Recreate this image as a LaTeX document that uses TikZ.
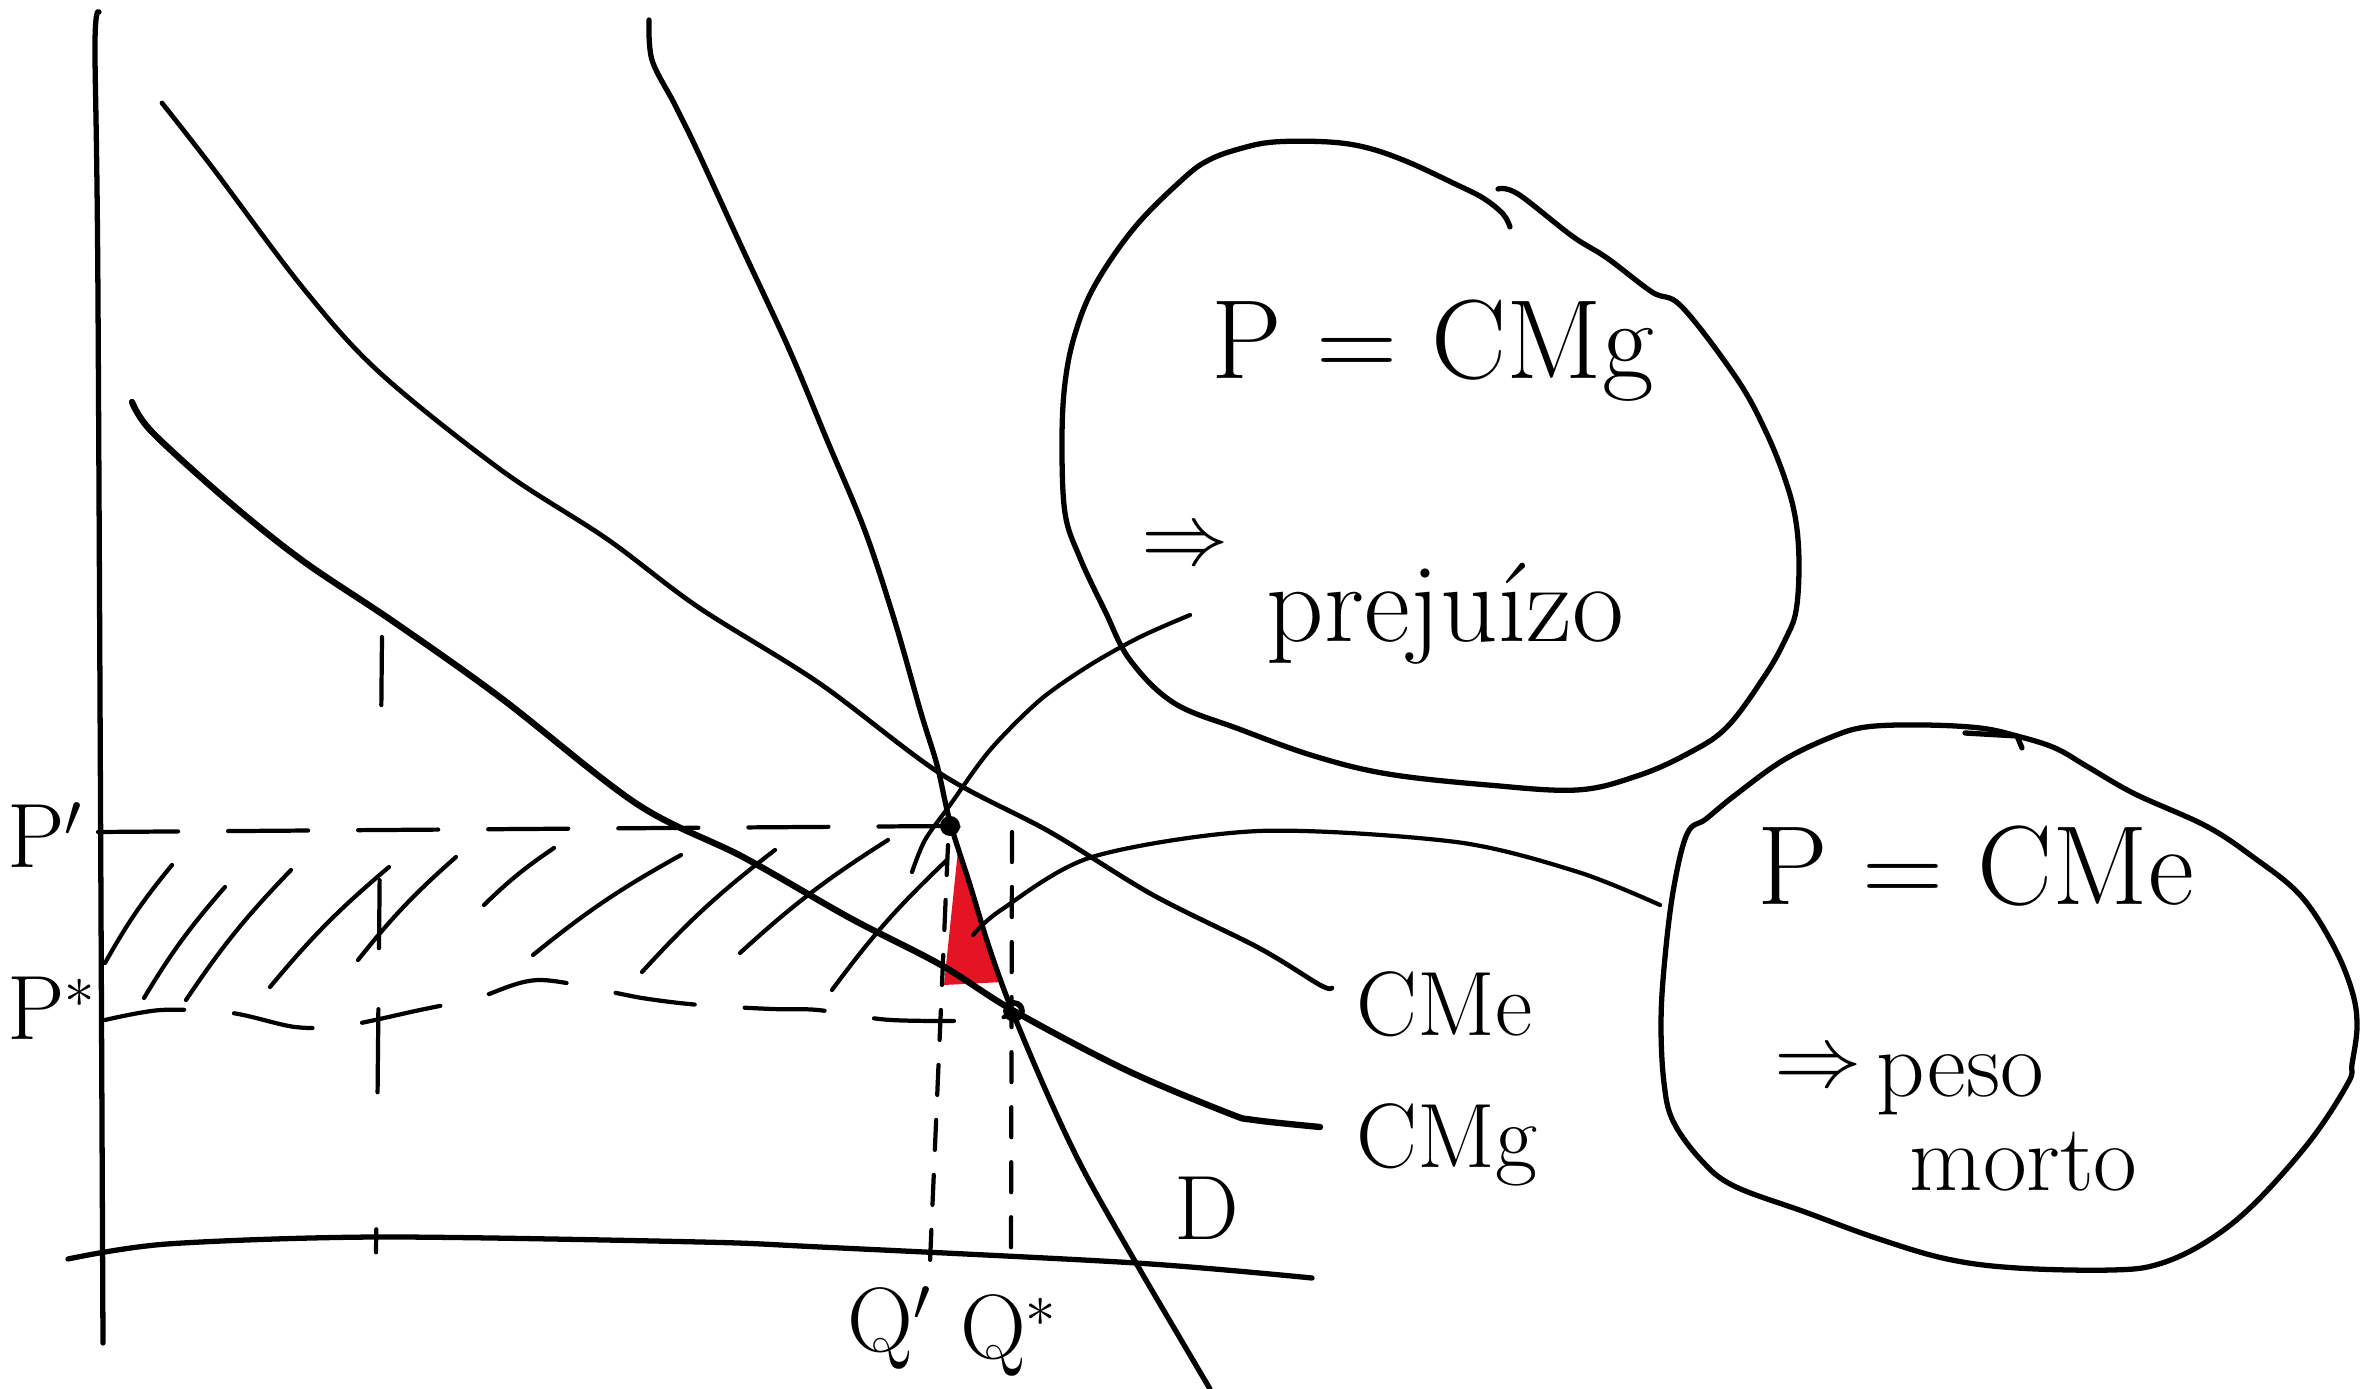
\documentclass[tikz,border=0pt]{standalone}
\usepackage{fontspec}
\usetikzlibrary{positioning}
\definecolor{inkred}{RGB}{228,20,36}

\begin{document}
\begin{tikzpicture}[
  x=0.01cm, y=-0.01cm,
  curve/.style={line width=1.5pt, line cap=round, line join=round},
  fine/.style={line width=1.2pt, line cap=round, line join=round},
  guide/.style={fine, dash pattern=on 0.8cm off 0.5cm},
  drop/.style={fine, dash pattern=on 0.3cm off 0.25cm},
  hatch/.style={fine},
  lbl/.style={font=\fontsize{26}{28}\selectfont, inner sep=0pt},
  note/.style={font=\fontsize{32}{36}\selectfont, inner sep=0pt},
  subnote/.style={font=\fontsize{27}{30}\selectfont, inner sep=0pt}
]
\useasboundingbox (0,0) rectangle (2379,1389);

% deadweight area
\fill[inkred] (958,850) -- (944,985) -- (1003,982) -- cycle;

% axes
\draw[curve] plot[smooth] coordinates {(99,12) (95,45) (98,300) (103,1343)};
\draw[curve] plot[smooth] coordinates {(68,1259) (167,1244) (379,1237) (700,1242) (820,1247) (1136,1263) (1312,1278)};

% demand, average and marginal cost
\draw[curve] plot[smooth, tension=0.55] coordinates {(649,20) (652,60) (675,105) (698,152) (743,250) (789,349) (827,440) (865,531) (895,622) (921,713) (937,765) (950,822) (970,885) (990,950) (1013,1013) (1050,1100) (1085,1173) (1136,1263) (1177,1333) (1210,1389)};
\draw[fine, line width=1.35pt] plot[smooth, tension=0.55] coordinates {(162,103) (212,167) (303,288) (379,372) (501,470) (607,539) (698,607) (819,683) (941,774) (1050,832) (1153,895) (1259,948) (1320,985) (1332,988)};
\draw[curve, line width=1.8pt] plot[smooth, tension=0.55] coordinates {(132,402) (152,432) (228,501) (303,561) (394,622) (501,698) (637,804) (743,857) (850,918) (941,965) (1014,1011) (1126,1070) (1228,1113) (1254,1120) (1320,1127)};

\coordinate (E1) at (950,826);
\coordinate (E2) at (1014,1011);
\fill (E1) circle[radius=0.1cm];
\draw[line width=1.6pt] (E2) circle[radius=0.08cm];

% price and quantity guides
\draw[guide] (98,832) -- (E1) -- (984,829);
\draw[guide] plot[smooth] coordinates {(105,1020) (161,1010) (232,1013) (295,1027) (344,1026) (420,1010) (477,998) (540,980) (642,998) (700,1005) (772,1009) (818,1010) (891,1020) (990,1020) (E2)};
\draw[drop] (948,845) -- (930,1262);
\draw[drop] (1012,832) -- (1011,1248);
\draw[fine, dash pattern=on 0.68cm off 1.75cm on 0.68cm off 0.61cm on 0.83cm off 1.37cm on 0.23cm off 1cm] (382,637) -- (376,1255);

% loss area
\foreach \xa/\ya/\xb/\yb in {105/963/172/865, 144/998/225/887, 186/1000/291/870, 270/987/389/867, 358/960/456/857, 484/905/554/848, 533/955/681/855, 642/972/775/850, 740/953/888/840, 832/990/947/860}
  \draw[hatch] (\xa,\ya) to[bend left=5] (\xb,\yb);

% labels
\node[lbl] (pprime) at (45,835) {P$'$};
\node[lbl] (pstar) at (52,1008) {P$^*$};
\node[lbl] (qprime) at (890,1328) {Q$'$};
\node[lbl] (qstar) at (1009,1335) {Q$^*$};
\node[lbl] (dlab) at (1207,1208) {D};
\node[lbl, anchor=base west] (cmelab) at (1356,1035) {CMe};
\node[lbl, anchor=base west] (cmglab) at (1356,1167) {CMg};

% bubble: P = CMg
\draw[curve] plot[smooth, tension=0.6] coordinates {(1510,227) (1503,214) (1483,198) (1453,183) (1408,162) (1368,148) (1329,142) (1274,142) (1239,149) (1209,160) (1184,178) (1135,227) (1095,285) (1075,334) (1065,383) (1062,441) (1065,513) (1080,558) (1105,611) (1130,660) (1174,703) (1239,729) (1314,756) (1388,774) (1488,785) (1577,790) (1637,776) (1687,754) (1727,727) (1766,674) (1786,638) (1796,611) (1799,566) (1796,522) (1786,482) (1766,432) (1737,379) (1682,307) (1652,292) (1607,258) (1572,236) (1518,194) (1498,189)};
\node[note, anchor=base] (rule1) at (1433,379) {P = CMg};
\node[note] (impl1) at (1185,548) {$\Rightarrow$};
\node[note, anchor=base west] (loss) at (1266,642) {prejuízo};

% bubble: P = CMe
\draw[curve] plot[smooth cycle, tension=0.6] coordinates {(1923,725) (1980,728) (2017,736) (2055,748) (2088,767) (2135,794) (2206,826) (2253,857) (2300,895) (2333,945) (2352,991) (2357,1026) (2352,1064) (2348,1083) (2310,1141) (2253,1205) (2206,1242) (2159,1264) (2112,1270) (2017,1268) (1947,1259) (1876,1238) (1805,1212) (1734,1186) (1701,1160) (1673,1121) (1664,1083) (1661,1026) (1664,968) (1673,892) (1687,834) (1706,819) (1734,796) (1782,761) (1829,738) (1866,727)};
\draw[curve] (1965,733) -- (2017,736) -- (2022,748);
\node[note, anchor=base] (rule2) at (1976,904) {P = CMe};
\node[subnote] (impl2) at (1818,1070) {$\Rightarrow$};
\node[subnote, anchor=base west] (dwl) at (1876,1096) {peso};
\node[subnote, anchor=base west] (dwl2) at (1909,1190) {morto};

% pointers from the bubbles
\coordinate (tail1) at (1190,615);
\coordinate (head1) at (912,872);
\draw[fine] plot[smooth] coordinates {(tail1) (1140,637) (1090,665) (1040,700) (990,750) (950,805) (925,840) (head1)};
\coordinate (tail2) at (1660,905);
\coordinate (head2) at (973,935);
\draw[fine] plot[smooth] coordinates {(tail2) (1578,872) (1456,842) (1259,831) (1092,857) (1001,910) (head2)};
\end{tikzpicture}
\end{document}
